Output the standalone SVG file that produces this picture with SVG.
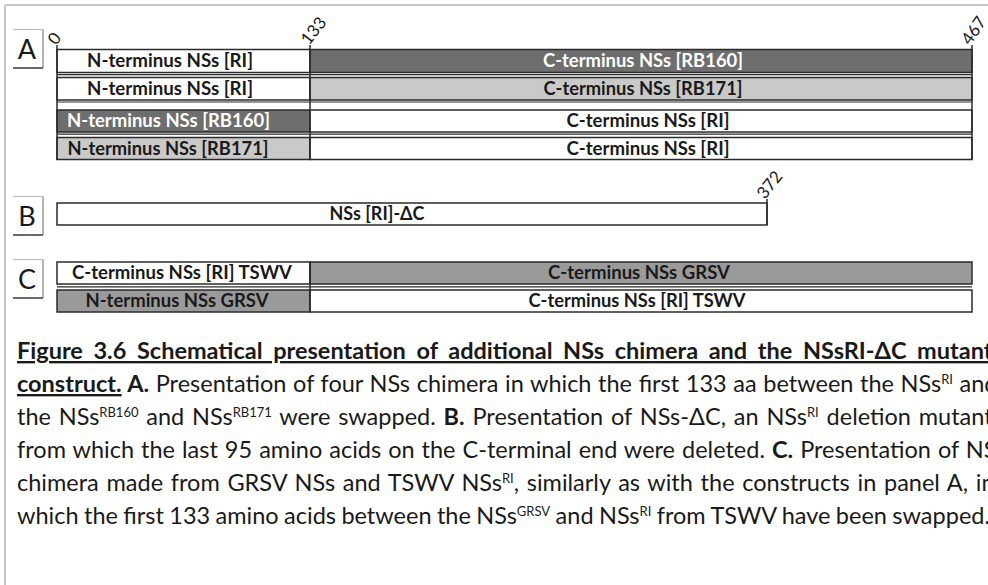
<svg xmlns="http://www.w3.org/2000/svg" width="988" height="585" viewBox="0 0 988 585">
<style>
  .frame{stroke:#c6c6c6;stroke-width:2;fill:none}
  .bar{stroke:#2b2b2b;stroke-width:1.5}
  .w{fill:#ffffff}
  .dk{fill:#6e6e6e}
  .lt{fill:#c9c9c9}
  .md{fill:#9a9a9a}
  .sep{stroke:#2b2b2b;stroke-width:1.2;fill:none}
  .tick{stroke:#2b2b2b;stroke-width:1.5;fill:none}
  .bt{font-family:"Lato","Liberation Sans",sans-serif;font-weight:bold;font-size:18.5px;text-anchor:middle;fill:#1a1a1a}
  .wt{fill:#ffffff}
  .num{font-family:"Lato","Liberation Sans",sans-serif;font-size:17px;fill:#1a1a1a}
  .lbl{font-family:"Lato","Liberation Sans",sans-serif;font-size:27px;text-anchor:middle;fill:#1a1a1a}
  .boxtop{stroke:#c0c0c0;stroke-width:1.2;fill:none}
  .boxr{stroke:#9a9a9a;stroke-width:1.5;fill:none}
  .boxb{stroke:#6a6a6a;stroke-width:2;fill:none}
  .cap{font-family:"Lato","Liberation Sans",sans-serif;font-size:23.5px;fill:#1a1a1a}
  .b{font-weight:bold}
  .u{text-decoration:underline}
  .sup{font-size:13px}
</style>

<g id="frame">
  <line class="frame" x1="5" y1="5" x2="988" y2="5"/>
  <line class="frame" x1="5" y1="5" x2="5" y2="585"/>
</g>

<g id="label-A">
  <line class="boxtop" x1="13" y1="29.5" x2="43" y2="29.5"/>
  <line class="boxr" x1="43" y1="29.5" x2="43" y2="68"/>
  <line class="boxb" x1="13" y1="68" x2="43" y2="68"/>
  <text class="lbl" x="27" y="59">A</text>
</g>
<g id="label-B">
  <line class="boxtop" x1="13" y1="196.5" x2="43" y2="196.5"/>
  <line class="boxr" x1="43" y1="196.5" x2="43" y2="235"/>
  <line class="boxb" x1="13" y1="235" x2="43" y2="235"/>
  <text class="lbl" x="27" y="226">B</text>
</g>
<g id="label-C">
  <line class="boxtop" x1="13" y1="259.5" x2="43" y2="259.5"/>
  <line class="boxr" x1="43" y1="259.5" x2="43" y2="298"/>
  <line class="boxb" x1="13" y1="298" x2="43" y2="298"/>
  <text class="lbl" x="27" y="289">C</text>
</g>

<!-- Panel A -->
<g id="A-row1">
  <rect class="bar w" x="57" y="49.5" width="253" height="23"/>
  <rect class="bar dk" x="310" y="49.5" width="662" height="23"/>
  <text class="bt" x="170" y="67" textLength="166" lengthAdjust="spacingAndGlyphs">N-terminus NSs [RI]</text>
  <text class="bt wt" x="643" y="67" textLength="200" lengthAdjust="spacingAndGlyphs">C-terminus NSs [RB160]</text>
</g>
<g id="A-row2">
  <rect class="bar w" x="57" y="77.5" width="253" height="22.5"/>
  <rect class="bar lt" x="310" y="77.5" width="662" height="22.5"/>
  <text class="bt" x="170" y="95" textLength="166" lengthAdjust="spacingAndGlyphs">N-terminus NSs [RI]</text>
  <text class="bt" x="643" y="95" textLength="199" lengthAdjust="spacingAndGlyphs">C-terminus NSs [RB171]</text>
</g>
<g id="A-row3">
  <rect class="bar dk" x="57" y="110" width="253" height="22"/>
  <rect class="bar w" x="310" y="110" width="662" height="22"/>
  <text class="bt wt" x="168.5" y="127" textLength="203" lengthAdjust="spacingAndGlyphs">N-terminus NSs [RB160]</text>
  <text class="bt" x="648" y="127" textLength="163" lengthAdjust="spacingAndGlyphs">C-terminus NSs [RI]</text>
</g>
<g id="A-row4">
  <rect class="bar lt" x="57" y="137.5" width="253" height="22"/>
  <rect class="bar w" x="310" y="137.5" width="662" height="22"/>
  <text class="bt" x="168" y="154.5" textLength="201" lengthAdjust="spacingAndGlyphs">N-terminus NSs [RB171]</text>
  <text class="bt" x="648" y="154.5" textLength="163" lengthAdjust="spacingAndGlyphs">C-terminus NSs [RI]</text>
</g>

<!-- Panel B -->
<g id="B-row">
  <rect class="bar w" x="57" y="203" width="710" height="22"/>
  <text class="bt" x="377" y="220" textLength="95" lengthAdjust="spacingAndGlyphs">NSs [RI]-ΔC</text>
</g>

<!-- Panel C -->
<g id="C-row1">
  <rect class="bar w" x="57" y="262" width="253" height="22"/>
  <rect class="bar md" x="310" y="262" width="662" height="22"/>
  <text class="bt" x="182" y="279" textLength="220" lengthAdjust="spacingAndGlyphs">C-terminus NSs [RI] TSWV</text>
  <text class="bt" x="639" y="279" textLength="182" lengthAdjust="spacingAndGlyphs">C-terminus NSs GRSV</text>
</g>
<g id="C-row2">
  <rect class="bar md" x="57" y="290" width="253" height="22"/>
  <rect class="bar w" x="310" y="290" width="662" height="22"/>
  <text class="bt" x="177" y="307" textLength="183" lengthAdjust="spacingAndGlyphs">N-terminus NSs GRSV</text>
  <text class="bt" x="637" y="307" textLength="217" lengthAdjust="spacingAndGlyphs">C-terminus NSs [RI] TSWV</text>
</g>

<!-- connectors: separators and position ticks -->
<g id="connectors">
  <line class="sep" x1="57" y1="74.6" x2="972" y2="74.6"/>
  <line class="sep" x1="57" y1="102" x2="972" y2="102"/>
  <line class="sep" x1="57" y1="134.2" x2="972" y2="134.2"/>
  <line class="sep" x1="57" y1="286.8" x2="972" y2="286.8"/>
  <line class="tick" x1="57" y1="45" x2="57" y2="160"/>
  <line class="tick" x1="310" y1="45" x2="310" y2="160"/>
  <line class="tick" x1="972" y1="45" x2="972" y2="160"/>
  <line class="tick" x1="767" y1="199" x2="767" y2="225"/>
  <line class="tick" x1="310" y1="262" x2="310" y2="312"/>
</g>

<g id="tick-labels">
  <text class="num" transform="translate(56,46) rotate(-52)">0</text>
  <text class="num" transform="translate(309,46) rotate(-52)">133</text>
  <text class="num" transform="translate(970,46) rotate(-55)">467</text>
  <text class="num" transform="translate(765,200) rotate(-52)">372</text>
</g>

<g id="caption">
  <text class="cap b u" x="17" y="359" word-spacing="4.9">Figure 3.6 Schematical presentation of additional NSs chimera and the NSsRI-ΔC mutant</text>
  <text class="cap" x="17" y="392" word-spacing="0.6"><tspan class="b u">construct.</tspan><tspan class="b"> A.</tspan> Presentation of four NSs chimera in which the first 133 aa between the NSs<tspan class="sup" dy="-8">RI</tspan><tspan dy="8"> and</tspan></text>
  <text class="cap" x="17" y="425" word-spacing="1.8">the NSs<tspan class="sup" dy="-8">RB160</tspan><tspan dy="8"> and NSs</tspan><tspan class="sup" dy="-8">RB171</tspan><tspan dy="8"> were swapped. </tspan><tspan class="b">B.</tspan> Presentation of NSs-ΔC, an NSs<tspan class="sup" dy="-8">RI</tspan><tspan dy="8"> deletion mutant</tspan></text>
  <text class="cap" x="17" y="458" word-spacing="1.0">from which the last 95 amino acids on the C-terminal end were deleted. <tspan class="b">C.</tspan> Presentation of NSs</text>
  <text class="cap" x="17" y="491" word-spacing="1.7">chimera made from GRSV NSs and TSWV NSs<tspan class="sup" dy="-8">RI</tspan><tspan dy="8">, similarly as with the constructs in panel A, in</tspan></text>
  <text class="cap" x="17" y="524" word-spacing="-0.6">which the first 133 amino acids between the NSs<tspan class="sup" dy="-8">GRSV</tspan><tspan dy="8"> and NSs</tspan><tspan class="sup" dy="-8">RI</tspan><tspan dy="8"> from TSWV have been swapped.</tspan></text>
</g>
</svg>
